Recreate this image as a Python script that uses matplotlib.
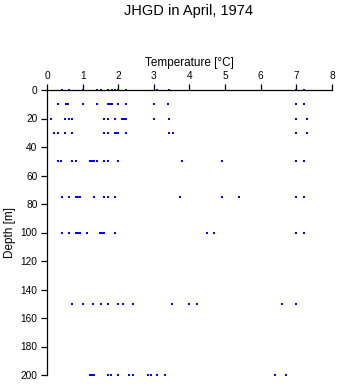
import numpy as np
import matplotlib.pyplot as plt

plt.rcParams['font.family'] = ['Liberation Sans', 'DejaVu Sans']

# sampling depths [m] and the temperatures measured at each one [degC]
depths = [0, 10, 20, 30, 50, 75, 100, 150, 200]
t_0 = [0.41, 0.62, 1.02, 1.41, 1.51, 1.72, 1.82, 1.91, 2.0, 2.21, 3.1, 3.42, 7.0, 7.21]
t_10 = [0.32, 0.52, 0.6, 1.02, 1.41, 1.71, 1.77, 1.82, 2.0, 2.21, 3.0, 3.4, 7.0, 7.21]
t_20 = [0.12, 0.51, 0.62, 0.71, 1.61, 1.72, 1.91, 2.1, 2.16, 2.22, 3.0, 3.42, 7.0, 7.31]
t_30 = [0.2, 0.32, 0.51, 0.71, 1.61, 1.72, 1.91, 1.96, 2.0, 2.22, 3.42, 3.53, 7.0, 7.31]
t_50 = [0.3, 0.4, 0.71, 0.82, 1.2, 1.27, 1.33, 1.41, 1.61, 1.72, 2.0, 3.8, 4.9, 7.0, 7.21]
t_75 = [0.42, 0.62, 0.81, 0.87, 0.93, 1.32, 1.61, 1.72, 1.92, 3.72, 4.9, 5.4, 7.0, 7.21]
t_100 = [0.41, 0.62, 0.82, 0.87, 0.93, 1.11, 1.5, 1.55, 1.61, 1.92, 4.5, 4.7, 7.0, 7.21]
t_150 = [0.71, 1.02, 1.3, 1.51, 1.72, 2.0, 2.12, 2.41, 3.52, 4.0, 4.21, 6.61, 7.0]
t_200 = [1.21, 1.27, 1.33, 1.72, 1.8, 2.0, 2.31, 2.42, 2.83, 2.91, 3.1, 3.31, 6.4, 6.7]
temps = [t_0, t_10, t_20, t_30, t_50, t_75, t_100, t_150, t_200]

x = np.concatenate([np.array(t) for t in temps])
y = np.concatenate([np.full(len(t), d) for d, t in zip(depths, temps)])

fig = plt.figure(figsize=(3.38, 3.84), dpi=100)
ax = fig.add_axes([47 / 338, 9 / 384, 285 / 338, 285 / 384])

ax.plot(x, y, 's', color='#0000ff', ms=2.1, mew=0, clip_on=False)

ax.set_xlim(0, 8)
ax.set_ylim(200, 0)
ax.set_xticks(range(0, 9))
ax.set_yticks(range(0, 201, 20))

ax.xaxis.set_ticks_position('top')
ax.xaxis.set_label_position('top')
ax.spines['right'].set_visible(False)
ax.spines['bottom'].set_visible(False)
for s in ('top', 'left'):
    ax.spines[s].set_linewidth(0.9)

ax.tick_params(axis='both', direction='out', length=4.3, width=0.9,
               labelsize=7.3, pad=2.5)

ax.set_xlabel('Temperature [°C]', fontsize=8.5, labelpad=3)
ax.set_ylabel('Depth [m]', fontsize=8.5, labelpad=3)
fig.text(189 / 338, 1 - 14.5 / 384, 'JHGD in April, 1974', fontsize=10.5,
         ha='center', va='baseline')

fig.savefig('out.png', dpi=100)
